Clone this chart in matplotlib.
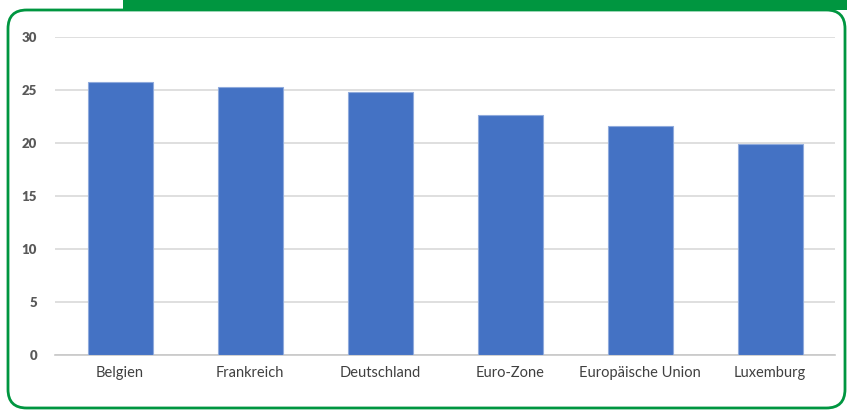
import matplotlib.pyplot as plt
from matplotlib.patches import FancyBboxPatch, Rectangle

# Values
laender = ["Belgien", "Frankreich", "Deutschland", "Euro-Zone", "Europäische Union", "Luxemburg"]
werte = [25.8, 25.3, 24.8, 22.6, 21.6, 19.9]
y_ticks = [0, 5, 10, 15, 20, 25, 30]

plt.rcParams['font.family'] = ['Lato', 'DejaVu Sans']

fig = plt.figure(figsize=(8.47, 4.12), dpi=100)
W, H = 847, 412

# green frame and top strip
fig.patches.append(Rectangle((123 / W, 1 - 10 / H), (W - 123) / W, 10 / H,
                             transform=fig.transFigure, facecolor="#009640",
                             edgecolor="none", zorder=0))
fig.patches.append(FancyBboxPatch((8 / W, 4 / H), (W - 10) / W, (H - 14) / H,
                                  boxstyle="round,pad=0,rounding_size=0.022",
                                  mutation_aspect=W / H,
                                  transform=fig.transFigure, facecolor="white",
                                  edgecolor="#009640", linewidth=2, zorder=1))

ax = fig.add_axes([55 / W, 57 / H, 780 / W, 318 / H])
ax.set_zorder(2)
ax.patch.set_alpha(0)

ax.bar(range(len(laender)), werte, width=0.5, color="#4472C4",
       edgecolor="#8faadc", linewidth=0.8, zorder=3)

ax.set_xlim(-0.5, len(laender) - 0.5)
ax.set_ylim(0, 30)
ax.set_yticks(y_ticks)
ax.set_yticklabels([str(t) for t in y_ticks], fontsize=9.5, fontweight="heavy", color="#595959")
ax.set_xticks(range(len(laender)))
ax.set_xticklabels(laender, fontsize=10.5, color="#404040")
ax.tick_params(axis="y", length=0, pad=13)
ax.tick_params(axis="x", length=0, pad=8)

ax.grid(axis="y", color="#d9d9d9", linewidth=1.2, zorder=0)
for s in ["top", "right", "left"]:
    ax.spines[s].set_visible(False)
ax.spines["bottom"].set_color("#c8c8c8")
ax.spines["bottom"].set_linewidth(1.2)

fig.savefig("out.png", dpi=100)
